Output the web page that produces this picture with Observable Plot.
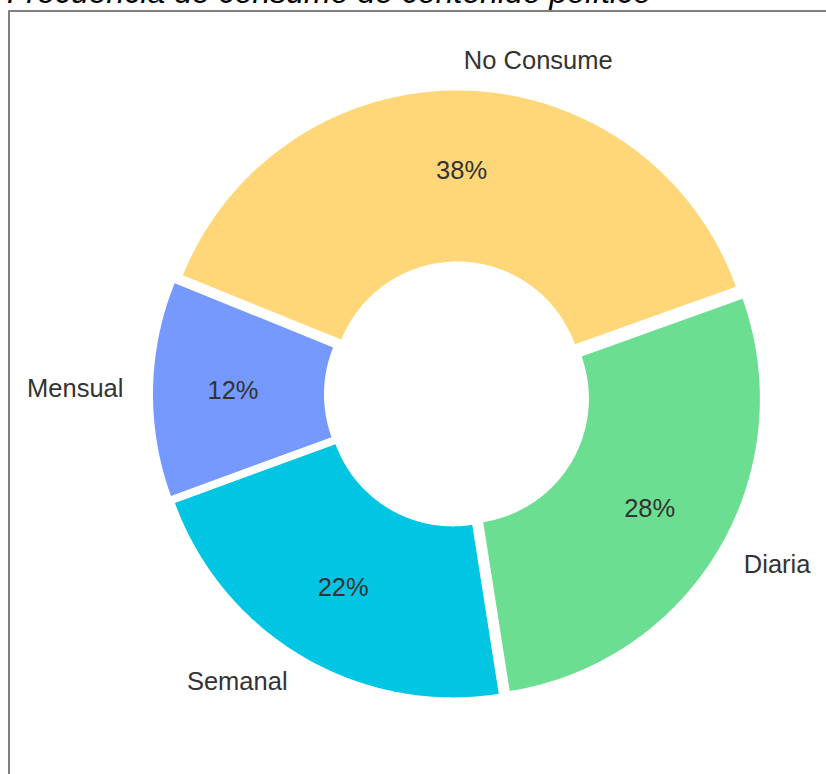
<!DOCTYPE html>
<html><head><meta charset="utf-8">
<script src="https://cdn.jsdelivr.net/npm/d3@7"></script>
<script src="https://cdn.jsdelivr.net/npm/@observablehq/plot@0.6"></script>
<style>
body{margin:0;background:#fff;overflow:hidden}
#wrap{position:relative;width:826px;height:774px;overflow:hidden;background:#fff}
#title{position:absolute;left:7px;top:-24px;font:italic 32px "Liberation Sans",Arial,sans-serif;line-height:32px;color:#000;white-space:nowrap;z-index:2}
#chart{position:absolute;left:0;top:0}
</style></head><body>
<div id="wrap"><div id="title"></div><div id="chart"></div></div>
<script>
// ---- data ----
const title = "Frecuencia de consumo de contenido político";
const categories = ["No Consume", "Mensual", "Semanal", "Diaria"];
const values = [38.4, 11.7, 21.9, 28.0];   // shares read from the wedges (labels show 38/12/22/28)
const colors = ["#FFD778", "#7599FF", "#00C6E3", "#6CDE91"];

// ---- pie settings (matplotlib-like, radius = 1) ----
const startAngle = 19.7;    // degrees, counterclockwise from east
const innerRadius = 0.4223; // donut hole
const explode = 0.027;
const labelDistance = 1.1;
const pctDistance = 0.73;

document.getElementById("title").textContent = title;

const total = d3.sum(values);
const rad = Math.PI / 180;
const wedges = [];
let cum = 0;
categories.forEach((cat, i) => {
  const a0 = startAngle + cum / total * 360;
  const a1 = a0 + values[i] / total * 360;
  cum += values[i];
  const mid = (a0 + a1) / 2;
  const ox = explode * Math.cos(mid * rad), oy = explode * Math.sin(mid * rad);
  wedges.push({cat, value: values[i], a0, a1, mid, ox, oy});
});

const pts = [];
for (const w of wedges) {
  const n = Math.ceil(w.a1 - w.a0) * 2;
  const ring = [];
  for (let k = 0; k <= n; k++) {
    const a = (w.a0 + (w.a1 - w.a0) * k / n) * rad;
    ring.push([w.ox + Math.cos(a), w.oy + Math.sin(a)]);
  }
  for (let k = n; k >= 0; k--) {
    const a = (w.a0 + (w.a1 - w.a0) * k / n) * rad;
    ring.push([w.ox + innerRadius * Math.cos(a), w.oy + innerRadius * Math.sin(a)]);
  }
  ring.push(ring[0]);
  for (const [x, y] of ring) pts.push({cat: w.cat, x, y});
}

const labels = wedges.map(w => ({
  cat: w.cat,
  x: w.ox + labelDistance * Math.cos(w.mid * rad),
  y: w.oy + labelDistance * Math.sin(w.mid * rad),
  right: Math.cos(w.mid * rad) > 0
}));
const pcts = wedges.map(w => ({
  text: Math.round(w.value / total * 100) + "%",
  x: w.ox + pctDistance * Math.cos(w.mid * rad),
  y: w.oy + pctDistance * Math.sin(w.mid * rad)
}));

// ---- layout ----
const W = 826, H = 774, cx = 456.5, cy = 394, Rpx = 296;
const mL = 8.5, mT = 10.5;
const xDomain = [(mL - cx) / Rpx, (W - cx) / Rpx];
const yDomain = [-(H - cy) / Rpx, (cy - mT) / Rpx];
const font = '"Liberation Sans", Arial, sans-serif';

const chart = Plot.plot({
  width: W, height: H,
  marginLeft: mL, marginTop: mT, marginRight: 0, marginBottom: 0,
  x: {domain: xDomain, axis: null},
  y: {domain: yDomain, axis: null},
  color: {domain: categories, range: colors},
  style: {fontFamily: font, background: "white"},
  marks: [
    Plot.line(pts, {x: "x", y: "y", z: "cat", fill: "cat", stroke: "none", curve: "linear"}),
    Plot.ruleX([xDomain[0]], {stroke: "#808080", strokeWidth: 2}),
    Plot.ruleY([yDomain[1]], {stroke: "#808080", strokeWidth: 2}),
    Plot.text(labels.filter(d => d.right), {x: "x", y: "y", text: "cat", textAnchor: "start", fontSize: 25.5, fill: "#333"}),
    Plot.text(labels.filter(d => !d.right), {x: "x", y: "y", text: "cat", textAnchor: "end", fontSize: 25.5, fill: "#333"}),
    Plot.text(pcts, {x: "x", y: "y", text: "text", textAnchor: "middle", fontSize: 25.5, fill: "#333"})
  ]
});
document.getElementById("chart").appendChild(chart);
</script>
</body></html>
